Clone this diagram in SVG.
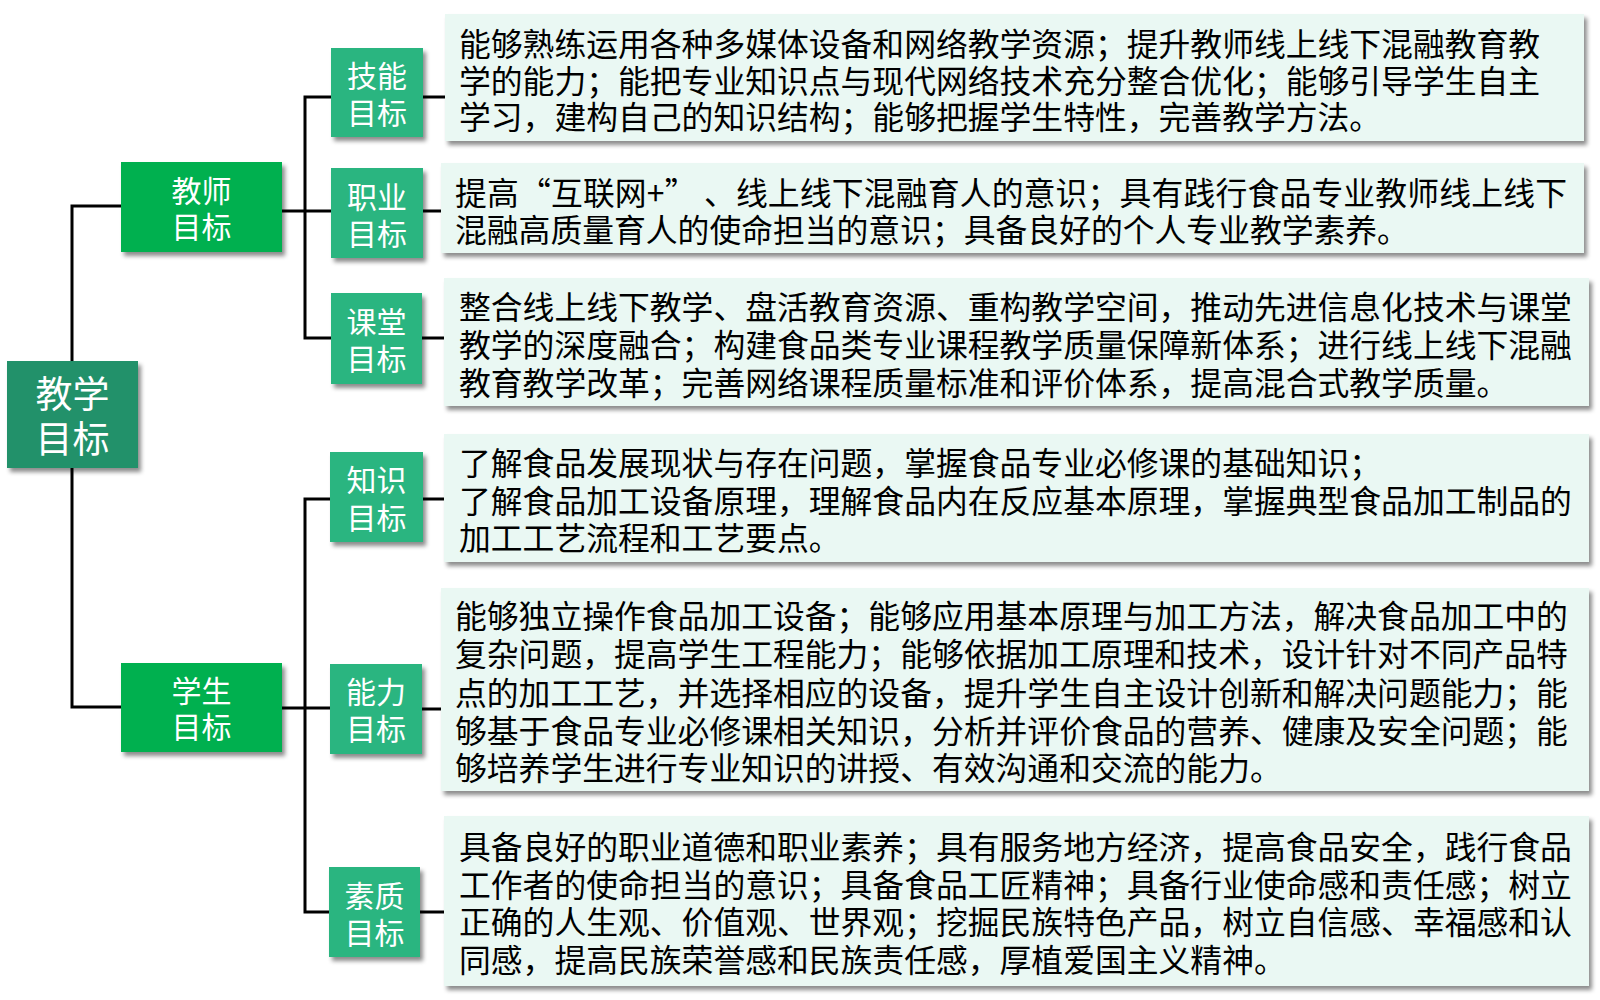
<svg xmlns="http://www.w3.org/2000/svg" width="1600" height="1000" viewBox="0 0 1600 1000">
<defs>
<filter id="sh" x="-5%" y="-5%" width="115%" height="125%">
<feDropShadow dx="3" dy="4" stdDeviation="2" flood-color="#000" flood-opacity="0.45"/>
</filter>
<style>
.root{fill:#22916a}
.mid{fill:#00b050}
.sub{fill:#2bb580}
.box{fill:#eaf8f3}
.lbl{font-family:"Noto Sans CJK SC",sans-serif;fill:#fff;text-anchor:middle;dominant-baseline:central}
.txt{font-family:"Noto Sans CJK SC",sans-serif;fill:#000;font-size:31.8px;dominant-baseline:central}
.conn{stroke:#000;stroke-width:3;fill:none}
</style>
</defs>
<rect width="1600" height="1000" fill="#fff"/>
<g id="connectors" class="conn">
<path d="M121,206 H72 V707 H121"/>
<path d="M282,211 H331"/>
<path d="M331,97 H305 V338 H331"/>
<path d="M282,708 H330"/>
<path d="M330,499 H305 V912 H329"/>
<path d="M423,97 H445"/>
<path d="M423,211 H441"/>
<path d="M422,338 H444"/>
<path d="M423,499 H444"/>
<path d="M422,709 H441"/>
<path d="M420,912 H444"/>
</g>
<g id="root">
<rect class="root" x="7" y="361" width="131" height="107" filter="url(#sh)"/>
<text class="lbl" font-size="37" x="72.5" y="392">教学</text>
<text class="lbl" font-size="37" x="72.5" y="437">目标</text>
</g>
<g id="teacher">
<rect class="mid" x="121" y="162" width="161" height="90" filter="url(#sh)"/>
<text class="lbl" font-size="30" x="201.5" y="189">教师</text>
<text class="lbl" font-size="30" x="201.5" y="225">目标</text>
</g>
<g id="student">
<rect class="mid" x="121" y="663" width="161" height="89" filter="url(#sh)"/>
<text class="lbl" font-size="30" x="201.5" y="689">学生</text>
<text class="lbl" font-size="30" x="201.5" y="725">目标</text>
</g>
<g id="skill">
<rect class="sub" x="331" y="48" width="92" height="89" filter="url(#sh)"/>
<text class="lbl" font-size="30" x="377" y="74">技能</text>
<text class="lbl" font-size="30" x="377" y="111">目标</text>
</g>
<g id="career">
<rect class="sub" x="331" y="168" width="92" height="90" filter="url(#sh)"/>
<text class="lbl" font-size="30" x="377" y="195">职业</text>
<text class="lbl" font-size="30" x="377" y="232">目标</text>
</g>
<g id="classroom">
<rect class="sub" x="331" y="293" width="91" height="91" filter="url(#sh)"/>
<text class="lbl" font-size="30" x="376.5" y="320">课堂</text>
<text class="lbl" font-size="30" x="376.5" y="357">目标</text>
</g>
<g id="knowledge">
<rect class="sub" x="330" y="452" width="93" height="90" filter="url(#sh)"/>
<text class="lbl" font-size="30" x="376.5" y="478">知识</text>
<text class="lbl" font-size="30" x="376.5" y="516">目标</text>
</g>
<g id="ability">
<rect class="sub" x="330" y="664" width="92" height="90" filter="url(#sh)"/>
<text class="lbl" font-size="30" x="376" y="690">能力</text>
<text class="lbl" font-size="30" x="376" y="727">目标</text>
</g>
<g id="quality">
<rect class="sub" x="329" y="867" width="91" height="90" filter="url(#sh)"/>
<text class="lbl" font-size="30" x="374.5" y="894">素质</text>
<text class="lbl" font-size="30" x="374.5" y="931">目标</text>
</g>
<g id="skill-text">
<rect class="box" x="445" y="14" width="1139" height="127" filter="url(#sh)"/>
<text class="txt" x="459" y="41.5">能够熟练运用各种多媒体设备和网络教学资源；提升教师线上线下混融教育教</text>
<text class="txt" x="459" y="78.5">学的能力；能把专业知识点与现代网络技术充分整合优化；能够引导学生自主</text>
<text class="txt" x="459" y="114.5">学习，建构自己的知识结构；能够把握学生特性，完善教学方法。</text>
</g>
<g id="career-text">
<rect class="box" x="441" y="163" width="1143" height="90" filter="url(#sh)"/>
<text class="txt" x="455" y="190.5" textLength="1112">提高“互联网+” 、线上线下混融育人的意识；具有践行食品专业教师线上线下</text>
<text class="txt" x="455" y="227.5">混融高质量育人的使命担当的意识；具备良好的个人专业教学素养。</text>
</g>
<g id="classroom-text">
<rect class="box" x="444" y="278" width="1145" height="128" filter="url(#sh)"/>
<text class="txt" x="459" y="304.5">整合线上线下教学、盘活教育资源、重构教学空间，推动先进信息化技术与课堂</text>
<text class="txt" x="459" y="342.5">教学的深度融合；构建食品类专业课程教学质量保障新体系；进行线上线下混融</text>
<text class="txt" x="459" y="380.5">教育教学改革；完善网络课程质量标准和评价体系，提高混合式教学质量。</text>
</g>
<g id="knowledge-text">
<rect class="box" x="444" y="434" width="1145" height="128" filter="url(#sh)"/>
<text class="txt" x="459" y="461">了解食品发展现状与存在问题，掌握食品专业必修课的基础知识；</text>
<text class="txt" x="459" y="499">了解食品加工设备原理，理解食品内在反应基本原理，掌握典型食品加工制品的</text>
<text class="txt" x="459" y="536">加工工艺流程和工艺要点。</text>
</g>
<g id="ability-text">
<rect class="box" x="441" y="588" width="1148" height="203" filter="url(#sh)"/>
<text class="txt" x="455" y="613.5">能够独立操作食品加工设备；能够应用基本原理与加工方法，解决食品加工中的</text>
<text class="txt" x="455" y="651.5">复杂问题，提高学生工程能力；能够依据加工原理和技术，设计针对不同产品特</text>
<text class="txt" x="455" y="690.5">点的加工工艺，并选择相应的设备，提升学生自主设计创新和解决问题能力；能</text>
<text class="txt" x="455" y="728.5">够基于食品专业必修课相关知识，分析并评价食品的营养、健康及安全问题；能</text>
<text class="txt" x="455" y="765.5">够培养学生进行专业知识的讲授、有效沟通和交流的能力。</text>
</g>
<g id="quality-text">
<rect class="box" x="444" y="816" width="1145" height="170" filter="url(#sh)"/>
<text class="txt" x="459" y="844.5">具备良好的职业道德和职业素养；具有服务地方经济，提高食品安全，践行食品</text>
<text class="txt" x="459" y="882.5">工作者的使命担当的意识；具备食品工匠精神；具备行业使命感和责任感；树立</text>
<text class="txt" x="459" y="919.5">正确的人生观、价值观、世界观；挖掘民族特色产品，树立自信感、幸福感和认</text>
<text class="txt" x="459" y="957.5">同感，提高民族荣誉感和民族责任感，厚植爱国主义精神。</text>
</g>
</svg>
